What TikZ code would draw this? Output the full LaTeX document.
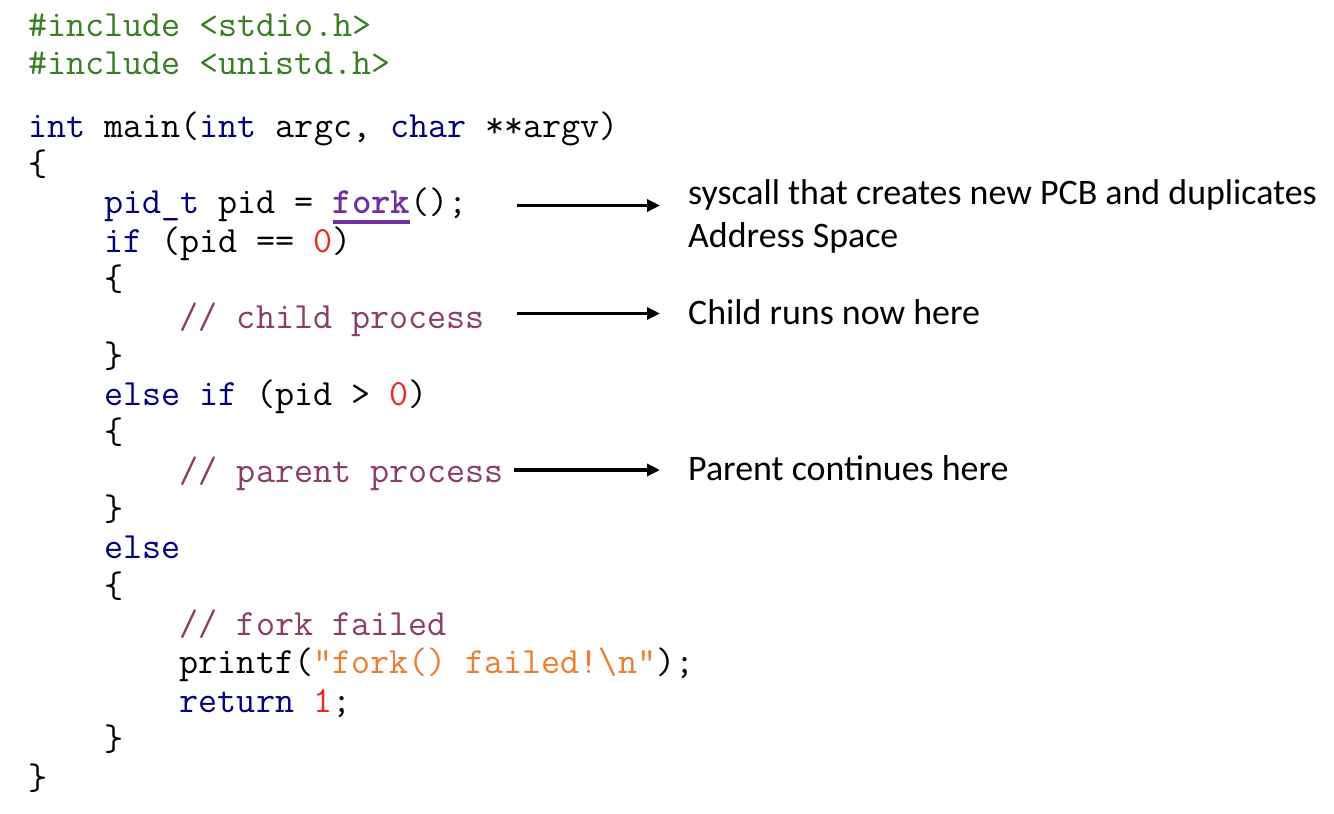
\documentclass[tikz,border=0pt]{standalone}
\usepackage{fontspec}
\newfontfamily\annfont{Carlito}
\usetikzlibrary{arrows.meta}
\definecolor{inclc}{RGB}{56,125,35}
\definecolor{kwc}{RGB}{0,0,128}
\definecolor{cmtc}{RGB}{139,61,102}
\definecolor{forkc}{RGB}{112,48,160}
\definecolor{numc}{RGB}{238,40,30}
\definecolor{strc}{RGB}{237,125,49}
\newcommand{\kw}[1]{\textcolor{kwc}{#1}}
\newcommand{\num}[1]{\textcolor{numc}{#1}}
\newcommand{\cmt}[1]{\textcolor{cmtc}{#1}}
\newcommand{\str}[1]{\textcolor{strc}{#1}}
\newsavebox{\forkbox}
\newcommand{\forkul}{\textcolor{forkc}{\sbox{\forkbox}{\bfseries fork}\rlap{\rule[-10pt]{\wd\forkbox}{3.7pt}}\usebox{\forkbox}}}
\tikzset{
  code/.style={anchor=base west, inner sep=0pt, font=\ttfamily\fontsize{37}{38}\selectfont},
  ann/.style={anchor=base west, inner sep=0pt, font=\annfont\fontsize{35.9}{43}\selectfont},
  arr/.style={line width=3.6pt, -{Triangle[length=13pt,width=12pt]}}
}
\begin{document}
\begin{tikzpicture}[x=1pt,y=-1pt]
\useasboundingbox[fill=white] (0,0) rectangle (1334,814);
\node[code] (l1) at (28,36) {\textcolor{inclc}{\#include <stdio.h>}};
\node[code] (l2) at (28,74.3) {\textcolor{inclc}{\#include <unistd.h>}};
\node[code] (l3) at (28,137) {\kw{int} main(\kw{int} argc, \kw{char} **argv)};
\node[code] (l4) at (28,175.4) {\{};
\node[code] (l5) at (103.8,213.7) {\kw{pid\_t} pid = \forkul();};
\node[code] (l6) at (103.8,252) {\kw{if} (pid == \num{0})};
\node[code] (l7) at (103.8,290.4) {\{};
\node[code] (l8) at (179.6,328.8) {\cmt{// child process}};
\node[code] (l9) at (103.8,367.1) {\}};
\node[code] (l10) at (103.8,405.5) {\kw{else if} (pid > \num{0})};
\node[code] (l11) at (103.8,443.8) {\{};
\node[code] (l12) at (179.6,482.2) {\cmt{// parent process}};
\node[code] (l13) at (103.8,520.5) {\}};
\node[code] (l14) at (103.8,558.9) {\kw{else}};
\node[code] (l15) at (103.8,597.2) {\{};
\node[code] (l16) at (179.6,635.6) {\cmt{// fork failed}};
\node[code] (l17) at (179.6,673.9) {printf(\str{"fork() failed!\textbackslash n"});};
\node[code] (l18) at (179.6,712.3) {\kw{return} \num{1};};
\node[code] (l19) at (103.8,750.6) {\}};
\node[code] (l20) at (28,789) {\}};

\node[ann] (n1) at (688,204) {syscall that creates new PCB and duplicates};
\node[ann] (n2) at (688,247.3) {Address Space};
\node[ann] (n3) at (688,324) {Child runs now here};
\node[ann] (n4) at (688,480) {Parent continues here};

\coordinate (a1s) at (517,205.5);
\coordinate (a1e) at (660,205.5);
\coordinate (a2s) at (517,313.5);
\coordinate (a2e) at (660,313.5);
\coordinate (a3s) at (514,470);
\coordinate (a3e) at (660,470);
\draw[arr] (a1s) -- (a1e);
\draw[arr] (a2s) -- (a2e);
\draw[arr] (a3s) -- (a3e);
\end{tikzpicture}
\end{document}
